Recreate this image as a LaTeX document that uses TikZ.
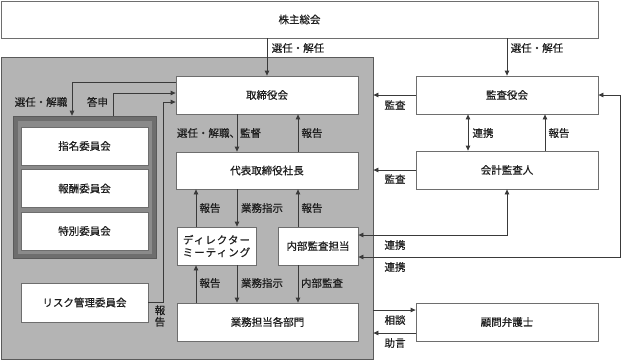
\documentclass[tikz,border=0pt]{standalone}
\usepackage{fontspec}
\setmainfont{Noto Sans CJK JP}[FakeBold=0.6]
\usetikzlibrary{arrows.meta}
\definecolor{boxc}{HTML}{6E6E6E}
\definecolor{linec}{HTML}{3A3A3A}
\definecolor{txt}{HTML}{1E1E1E}
\definecolor{regfill}{HTML}{B4B4B4}
\definecolor{regdraw}{HTML}{5A5A5A}
\definecolor{grpout}{HTML}{6E6E6E}
\definecolor{grpin}{HTML}{8A8A8A}
\begin{document}
\begin{tikzpicture}[x=1pt,y=-1pt,
  font=\fontsize{10.5}{12.5}\selectfont,
  box/.style={draw=boxc, fill=white, line width=0.8pt, inner sep=0pt, text=txt, align=center},
  arr/.style={draw=linec, line width=0.8pt, -{Triangle[length=5pt,width=4.5pt]}},
  barr/.style={draw=linec, line width=0.8pt, {Triangle[length=5pt,width=4.5pt]}-{Triangle[length=5pt,width=4.5pt]}},
  lab/.style={inner sep=0pt, text=txt, align=center}]
\useasboundingbox (0,0) rectangle (621,360);
\fill[white] (0,0) rectangle (621,360);

% management region
\node[draw=regdraw, fill=regfill, line width=0.8pt, minimum width=372pt, minimum height=302pt, inner sep=0pt] (mg) at (187,208) {};

% top
\node[box, minimum width=597pt, minimum height=37pt] (sh) at (299.5,19.5) {株主総会};

% committee group
\node[draw=regdraw, fill=grpout, line width=0.6pt, minimum width=143pt, minimum height=142pt, inner sep=0pt] (grp) at (84.5,187) {};
\node[fill=grpin, minimum width=134pt, minimum height=133pt, inner sep=0pt] (grpi) at (84.5,187) {};
\node[box, minimum width=127pt, minimum height=38pt] (c1) at (84.5,146) {指名委員会};
\node[box, minimum width=127pt, minimum height=38pt] (c2) at (84.5,188.5) {報酬委員会};
\node[box, minimum width=127pt, minimum height=38pt] (c3) at (84.5,231) {特別委員会};
\node[box, minimum width=127pt, minimum height=39pt] (rk) at (84.5,302.5) {リスク管理委員会};

% main column
\node[box, minimum width=182pt, minimum height=38pt] (bd) at (267,95) {取締役会};
\node[box, minimum width=182pt, minimum height=37pt] (ceo) at (267,170.5) {代表取締役社長};
\node[box, minimum width=79pt, minimum height=38pt, font=\fontsize{10.5}{12.5}\selectfont\addfontfeature{LetterSpace=10}] (dm) at (216.5,246) {ディレクター\\ミーティング};
\node[box, minimum width=80pt, minimum height=38pt] (ia) at (318,246) {内部監査担当};
\node[box, minimum width=181pt, minimum height=38pt] (ops) at (267.5,322) {業務担当各部門};

% right column
\node[box, minimum width=182pt, minimum height=38pt] (ac) at (507,95) {監査役会};
\node[box, minimum width=182pt, minimum height=38pt] (ea) at (507,170) {会計監査人};
\node[box, minimum width=182pt, minimum height=38pt] (lw) at (507,322) {顧問弁護士};

% helper coordinates
\coordinate (x196) at (196,0);
\coordinate (x237) at (237,0);
\coordinate (x298) at (298,0);
\coordinate (x468) at (468,0);
\coordinate (x545) at (545,0);
\coordinate (c19) at (72,82);
\coordinate (c20) at (113,93);
\coordinate (c21) at (163,102);
\coordinate (c7) at (507,235);
\coordinate (c8a) at (620,95);
\coordinate (c8b) at (620,257);
\coordinate (c9) at (0,310);
\coordinate (c10) at (0,333);

% shareholders
\draw[arr] (sh.south -| bd.north) -- (bd.north);
\draw[arr] (sh.south -| ac.north) -- (ac.north);
\node[lab] (l1) at (298,48) {選任・解任};
\node[lab] (l2) at (537,48) {選任・解任};

% audit
\draw[arr] (ac.west) -- (ac.west -| mg.east);
\node[lab] (l3) at (395,105) {監査};
\draw[arr] (ea.west) -- (ea.west -| mg.east);
\node[lab] (l4) at (395,179) {監査};
\draw[barr] (ac.south -| x468) -- (ea.north -| x468);
\node[lab] (l5) at (483,133) {連携};
\draw[arr] (ea.north -| x545) -- (ac.south -| x545);
\node[lab] (l6) at (559,133) {報告};
\draw[barr] (ea.south) -- (c7) -- (c7 -| ia.east);
\node[lab] (l7) at (395,245) {連携};
\draw[barr] (ac.east) -- (c8a) -- (c8b) -- (c8b -| ia.east);
\node[lab] (l8) at (395,267) {連携};
\draw[arr] (c9 -| mg.east) -- (c9 -| lw.west);
\node[lab] (l9) at (395,320) {相談};
\draw[arr] (c10 -| lw.west) -- (c10 -| mg.east);
\node[lab] (l10) at (395,343) {助言};

% board - ceo
\draw[arr] (bd.south -| x237) -- (ceo.north -| x237);
\node[lab] (l11) at (219,133) {選任・解職、監督};
\draw[arr] (ceo.north -| x298) -- (bd.south -| x298);
\node[lab] (l12) at (312,133) {報告};

% ceo - director / internal audit
\draw[arr] (dm.north -| x196) -- (ceo.south -| x196);
\node[lab] (l13) at (210,208) {報告};
\draw[arr] (ceo.south -| x237) -- (dm.north -| x237);
\node[lab] (l14) at (262,208) {業務指示};
\draw[arr] (ia.north -| x298) -- (ceo.south -| x298);
\node[lab] (l15) at (312,208) {報告};

% director / internal audit - ops
\draw[arr] (ops.north -| x196) -- (dm.south -| x196);
\node[lab] (l16) at (210,283) {報告};
\draw[arr] (dm.south -| x237) -- (ops.north -| x237);
\node[lab] (l17) at (262,283) {業務指示};
\draw[arr] (ia.south -| x298) -- (ops.north -| x298);
\node[lab] (l18) at (322,283) {内部監査};

% committees
\draw[arr] (bd.west |- c19) -- (c19) -- (c19 |- grp.north);
\node[lab] (l19) at (41,102) {選任・解職};
\draw[arr] (c20 |- grp.north) -- (c20) -- (c20 -| bd.west);
\node[lab] (l20) at (97.5,102) {答申};
\draw[arr] (rk.east) -- (rk.east -| c21) -- (c21) -- (c21 -| bd.west);
\node[lab, font=\fontsize{10.5}{11.5}\selectfont] (l21) at (160,316) {報\\告};
\end{tikzpicture}
\end{document}
